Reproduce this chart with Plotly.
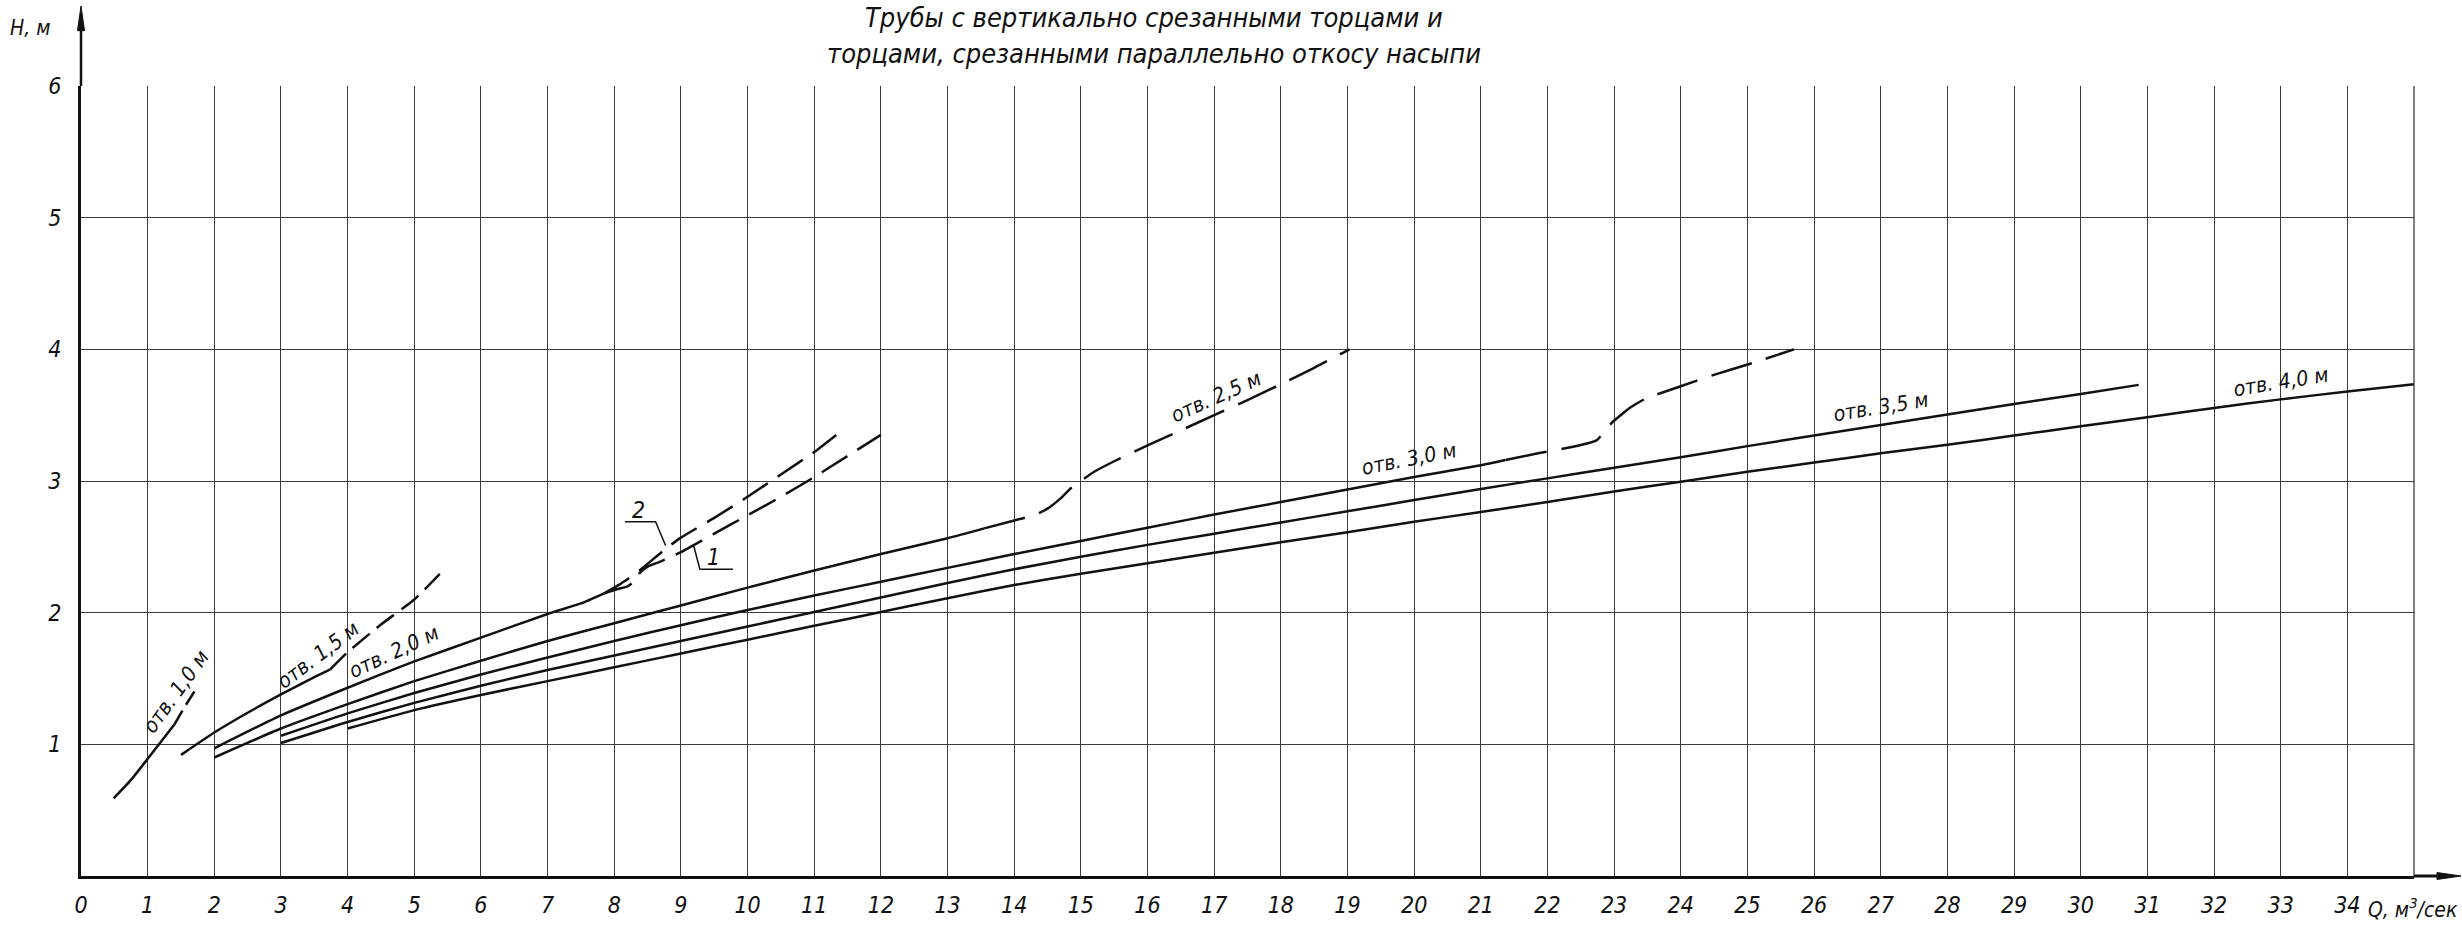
import plotly.graph_objects as go

# ---------------- data (Q in m3/s, H in m) ----------------
q_a10_solid = [0.49, 0.75, 1.0, 1.2, 1.4]
h_a10_solid = [0.59, 0.73, 0.89, 1.02, 1.15]
q_a10_dash = [1.4, 1.55, 1.75]
h_a10_dash = [1.15, 1.28, 1.44]

q_a15_solid = [1.5, 2.0, 2.5, 3.0, 3.5, 3.74]
h_a15_solid = [0.92, 1.09, 1.24, 1.38, 1.51, 1.57]
q_a15_dash = [3.74, 4.0, 4.5, 5.0, 5.45]
h_a15_dash = [1.57, 1.70, 1.91, 2.10, 2.33]

q_a20_solid = [2.0, 3.0, 4.0, 5.0, 6.0, 7.0, 7.5, 7.84]
h_a20_solid = [0.97, 1.22, 1.43, 1.63, 1.81, 1.99, 2.07, 2.145]
q_a20_v1 = [7.84, 8.05, 8.2, 8.3, 8.38, 8.5, 8.7, 9.0, 9.5, 10.0, 10.5, 11.0, 11.5, 12.0]
h_a20_v1 = [2.145, 2.18, 2.2, 2.24, 2.3, 2.35, 2.39, 2.46, 2.6, 2.74, 2.88, 3.03, 3.19, 3.35]
q_a20_v2 = [7.84, 8.0, 8.16, 8.4, 8.76, 9.0, 9.5, 10.0, 10.5, 11.0, 11.33]
h_a20_v2 = [2.145, 2.19, 2.24, 2.33, 2.48, 2.57, 2.72, 2.88, 3.05, 3.22, 3.35]

q_a25_solid = [2.0, 3.0, 4.0, 5.0, 6.0, 7.0, 8.0, 9.0, 10.0, 11.0, 12.0, 13.0, 13.55]
h_a25_solid = [0.90, 1.12, 1.305, 1.48, 1.635, 1.785, 1.92, 2.055, 2.19, 2.32, 2.445, 2.565, 2.64]
q_a25_dash = [13.55, 14.0, 14.3, 14.5, 14.7, 14.85, 15.0, 15.2, 15.5, 16.0, 16.5, 17.0, 17.5, 18.0, 18.5, 19.03]
h_a25_dash = [2.64, 2.70, 2.74, 2.79, 2.87, 2.945, 3.0, 3.07, 3.15, 3.27, 3.385, 3.5, 3.615, 3.735, 3.86, 4.0]

q_a30_solid = [3.0, 4.0, 5.0, 6.0, 7.0, 8.0, 9.0, 10.0, 11.0, 12.0, 13.0, 14.0, 15.0,
               16.0, 17.0, 18.0, 19.0, 20.0, 21.0, 21.37]
h_a30_solid = [1.065, 1.235, 1.39, 1.53, 1.66, 1.785, 1.905, 2.02, 2.13, 2.235, 2.34, 2.445, 2.545,
               2.645, 2.745, 2.84, 2.935, 3.03, 3.12, 3.16]
q_a30_dash = [21.37, 21.86, 22.47, 22.74, 22.85, 22.98, 23.25, 23.47, 24.0, 24.46, 25.1, 25.7]
h_a30_dash = [3.16, 3.21, 3.27, 3.31, 3.375, 3.45, 3.56, 3.625, 3.72, 3.80, 3.9, 4.0]

q_a35 = [3.0, 4.0, 5.0, 6.0, 7.0, 8.0, 9.0, 10.0, 11.0, 12.0, 13.0, 14.0, 15.0, 16.0, 17.0,
         18.0, 19.0, 20.0, 21.0, 22.0, 23.0, 24.0, 25.0, 26.0, 27.0, 28.0, 29.0, 30.0, 30.87]
h_a35 = [1.01, 1.17, 1.315, 1.445, 1.565, 1.675, 1.785, 1.895, 2.005, 2.115, 2.225, 2.33, 2.425, 2.515, 2.6,
         2.685, 2.77, 2.855, 2.94, 3.02, 3.10, 3.18, 3.265, 3.345, 3.425, 3.505, 3.585, 3.66, 3.73]

q_a40 = [4.0, 5.0, 6.0, 7.0, 8.0, 9.0, 10.0, 11.0, 12.0, 13.0, 14.0, 15.0, 16.0, 17.0, 18.0, 19.0,
         20.0, 21.0, 22.0, 23.0, 24.0, 25.0, 26.0, 27.0, 28.0, 29.0, 30.0, 31.0, 32.0, 33.0, 34.0, 35.0]
h_a40 = [1.12, 1.26, 1.375, 1.48, 1.585, 1.69, 1.795, 1.90, 2.005, 2.11, 2.21, 2.295, 2.375, 2.455, 2.535, 2.61,
         2.69, 2.765, 2.84, 2.92, 2.995, 3.07, 3.14, 3.21, 3.275, 3.345, 3.415, 3.485, 3.555, 3.62, 3.68, 3.735]

# leader lines for the variant marks "1" and "2"
q_leader2 = [8.16, 8.62, 8.77]
h_leader2 = [2.69, 2.69, 2.51]
q_leader1 = [9.19, 9.285, 9.78]
h_leader1 = [2.51, 2.33, 2.33]

# curve labels: text, Q, H, angle
label_text = ["отв. 1,0 м", "отв. 1,5 м", "отв. 2,0 м", "отв. 2,5 м", "отв. 3,0 м", "отв. 3,5 м", "отв. 4,0 м", "2", "1"]
label_q = [1.42, 3.56, 4.69, 17.02, 19.92, 27.0, 33.0, 8.36, 9.49]
label_h = [1.40, 1.68, 1.70, 3.64, 3.17, 3.56, 3.75, 2.78, 2.42]
label_angle = [-54, -37, -25, -24, -11, -9, -9, 0, 0]

x_ticks = list(range(0, 35))
x_ticktext = [str(v) for v in x_ticks]
y_ticks = list(range(1, 7))
y_ticktext = [str(v) for v in y_ticks]

title_line1 = "Трубы с вертикально срезанными торцами и"
title_line2 = "торцами, срезанными параллельно откосу насыпи"

# ---------------- figure ----------------
TICK_FONT = "Liberation Sans Narrow, DejaVu Sans Condensed, DejaVu Sans, sans-serif"
TEXT_FONT = "DejaVu Sans Condensed, Liberation Sans Narrow, DejaVu Sans, sans-serif"
INK = "#111111"
GRID = "#3c3c3c"

W, H = 2462, 930
ML, MR, MT, MB = 81, 48, 86, 44
PW, PH = W - ML - MR, H - MT - MB


def px(xpix):
    return (xpix - ML) / PW


def py(ypix):
    return (H - MB - ypix) / PH


fig = go.Figure()

solid_sets = [
    (q_a10_solid, h_a10_solid), (q_a15_solid, h_a15_solid), (q_a20_solid, h_a20_solid),
    (q_a25_solid, h_a25_solid), (q_a30_solid, h_a30_solid), (q_a35, h_a35), (q_a40, h_a40),
]
for qs, hs in solid_sets:
    fig.add_trace(go.Scatter(x=qs, y=hs, mode="lines", showlegend=False, hoverinfo="skip",
                             line=dict(color=INK, width=2.5, shape="spline", smoothing=0.5)))

dash_sets = [
    (q_a10_dash, h_a10_dash, "16px,7px"),
    (q_a15_dash, h_a15_dash, "22px,9px"),
    (q_a20_v1, h_a20_v1, "30px,12px"),
    (q_a20_v2, h_a20_v2, "30px,12px"),
    (q_a25_dash, h_a25_dash, "42px,15px"),
    (q_a30_dash, h_a30_dash, "42px,15px"),
]
for qs, hs, dash in dash_sets:
    fig.add_trace(go.Scatter(x=qs, y=hs, mode="lines", showlegend=False, hoverinfo="skip",
                             line=dict(color=INK, width=2.5, dash=dash, shape="spline", smoothing=0.5)))

for qs, hs in [(q_leader2, h_leader2), (q_leader1, h_leader1)]:
    fig.add_trace(go.Scatter(x=qs, y=hs, mode="lines", showlegend=False, hoverinfo="skip",
                             line=dict(color=INK, width=1.5)))

annotations = []
for t, q, h, a in zip(label_text, label_q, label_h, label_angle):
    annotations.append(dict(x=q, y=h, xref="x", yref="y", text=t, showarrow=False, textangle=a,
                            font=dict(family=TEXT_FONT, size=21 if len(t) > 1 else 23, color=INK, style="italic")))

annotations += [
    dict(x=px(1154), y=py(17), xref="paper", yref="paper", text=title_line1, showarrow=False,
         xanchor="center", yanchor="middle", font=dict(family=TEXT_FONT, size=27, color=INK, style="italic")),
    dict(x=px(1154), y=py(53), xref="paper", yref="paper", text=title_line2, showarrow=False,
         xanchor="center", yanchor="middle", font=dict(family=TEXT_FONT, size=27, color=INK, style="italic")),
    dict(x=px(30), y=py(27), xref="paper", yref="paper", text="H, м", showarrow=False,
         xanchor="center", yanchor="middle", font=dict(family=TICK_FONT, size=21, color=INK, style="italic")),
    dict(x=px(2460), y=py(918), xref="paper", yref="paper", text="Q, м<sup>3</sup>/сек", showarrow=False,
         xanchor="right", yanchor="middle", font=dict(family=TICK_FONT, size=21, color=INK, style="italic")),
]

shapes = [
    # right border of the grid (Q = 35)
    dict(type="line", xref="paper", yref="paper", x0=1, x1=1, y0=0, y1=1,
         line=dict(color=GRID, width=1.3)),
    # y axis arrow
    dict(type="line", xref="paper", yref="paper", x0=0, x1=0, y0=1, y1=py(20),
         line=dict(color=INK, width=2.5)),
    dict(type="path", xref="paper", yref="paper",
         path=f"M {px(81)} {py(5)} L {px(77.5)} {py(30)} L {px(84.5)} {py(30)} Z",
         fillcolor=INK, line=dict(color=INK, width=1)),
    # x axis arrow
    dict(type="line", xref="paper", yref="paper", x0=1, x1=px(2445), y0=0, y1=0,
         line=dict(color=INK, width=3)),
    dict(type="path", xref="paper", yref="paper",
         path=f"M {px(2461)} {py(886)} L {px(2437)} {py(882.5)} L {px(2437)} {py(889.5)} Z",
         fillcolor=INK, line=dict(color=INK, width=1)),
]

fig.update_layout(
    width=W, height=H, autosize=False,
    margin=dict(l=ML, r=MR, t=MT, b=MB, pad=0),
    paper_bgcolor="white", plot_bgcolor="white",
    showlegend=False,
    annotations=annotations,
    shapes=shapes,
)
fig.update_xaxes(range=[0, 35], tickmode="array", tickvals=x_ticks, ticktext=x_ticktext,
                 showgrid=True, gridcolor=GRID, gridwidth=1.3, zeroline=False,
                 showline=True, linecolor=INK, linewidth=3, ticks="",
                 ticklabelstandoff=6,
                 tickfont=dict(family=TICK_FONT, size=23, color=INK, style="italic"))
fig.update_yaxes(range=[0, 6], tickmode="array", tickvals=y_ticks, ticktext=y_ticktext,
                 showgrid=True, gridcolor=GRID, gridwidth=1.3, zeroline=False,
                 showline=True, linecolor=INK, linewidth=3, ticks="",
                 ticklabelstandoff=12,
                 tickfont=dict(family=TICK_FONT, size=23, color=INK, style="italic"))

fig.write_html("out.html", config={"displayModeBar": False},
               post_script="document.body.style.margin='0';")
